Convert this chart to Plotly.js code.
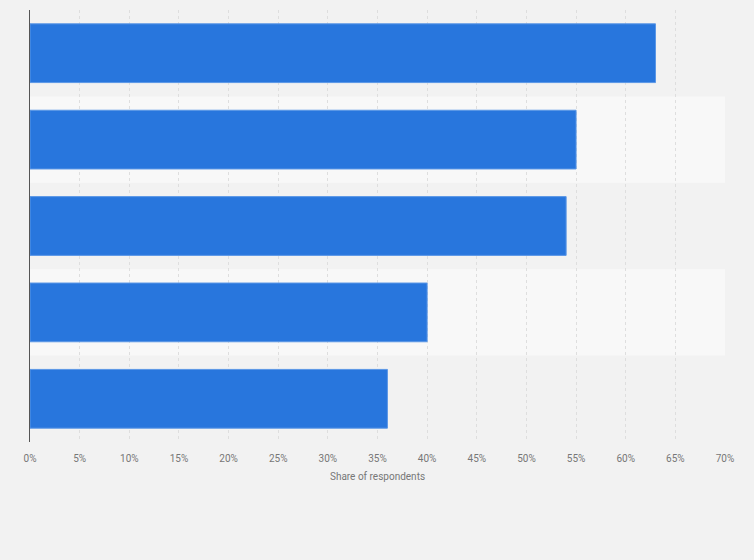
<!DOCTYPE html>
<html>
<head>
<meta charset="utf-8">
<script src="https://cdn.plot.ly/plotly-3.0.1.min.js"></script>
<style>
  html, body { margin: 0; padding: 0; background: #f2f2f2; }
  #chart { width: 754px; height: 560px; }
</style>
</head>
<body>
<div id="chart"></div>
<script>
// categories are not labelled in the source chart
const categories = ['Item 1', 'Item 2', 'Item 3', 'Item 4', 'Item 5'];
const shares = [63, 55, 54, 40, 36];
const tickValues = [0, 5, 10, 15, 20, 25, 30, 35, 40, 45, 50, 55, 60, 65, 70];
const tickLabels = tickValues.map(v => v + '%');

// lighter stripe behind every second row
const bands = categories
  .map((c, i) => i)
  .filter(i => i % 2 === 1)
  .map(i => ({
    type: 'rect', xref: 'paper', yref: 'y', layer: 'below',
    x0: 0, x1: 1, y0: i - 0.5, y1: i + 0.5,
    fillcolor: '#f8f8f8', line: { width: 0 }
  }));

const trace = {
  type: 'bar',
  orientation: 'h',
  x: shares,
  y: categories,
  marker: { color: '#2876dd', line: { color: '#5b97e6', width: 1 } },
  hoverinfo: 'x'
};

const layout = {
  width: 754,
  height: 560,
  paper_bgcolor: '#f2f2f2',
  plot_bgcolor: '#f2f2f2',
  margin: { l: 30, r: 29, t: 10, b: 118 },
  font: { family: 'Roboto, Arial, sans-serif', color: '#777' },
  bargap: 0.32,
  showlegend: false,
  shapes: bands,
  xaxis: {
    range: [0, 70],
    tickvals: tickValues,
    ticktext: tickLabels,
    tickfont: { size: 10, color: '#777' },
    showgrid: true,
    gridcolor: '#dedede',
    griddash: 'dot',
    gridwidth: 1,
    zeroline: false,
    showline: false,
    ticks: '',
    ticklabelstandoff: 9,
    title: { text: 'Share of respondents', font: { size: 10, color: '#777' }, standoff: 9 }
  },
  yaxis: {
    categoryorder: 'array',
    categoryarray: categories,
    autorange: 'reversed',
    showticklabels: false,
    showgrid: false,
    zeroline: false,
    showline: true,
    linecolor: '#555',
    linewidth: 1.5,
    ticks: ''
  }
};

Plotly.newPlot('chart', [trace], layout, { displayModeBar: false, staticPlot: true });
</script>
</body>
</html>
